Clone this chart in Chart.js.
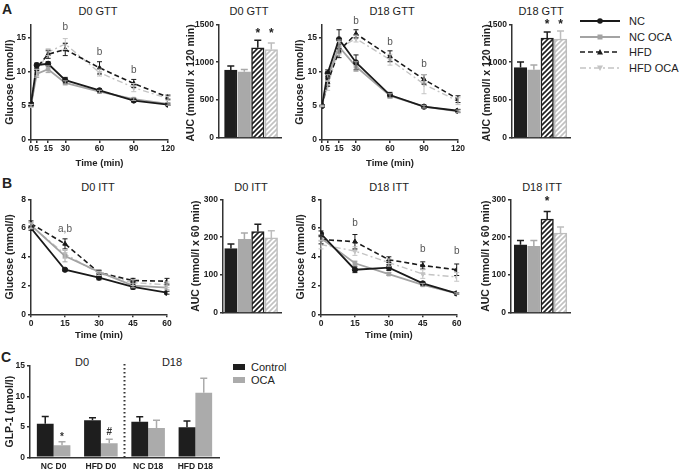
<!DOCTYPE html>
<html lang="en">
<head>
<meta charset="UTF-8">
<title>GTT, ITT and GLP-1</title>
<script src="https://cdn.jsdelivr.net/npm/chart.js"></script>
<style>
    body { margin: 0; width: 679px; height: 473px; position: relative; overflow: hidden; background: #fff;
           font-family: "Liberation Sans", Arial, sans-serif; color: #222; }
    canvas { position: absolute; }
    .ttl { position: absolute; font-size: 11px; transform: translate(-50%, -50%); white-space: nowrap; }
    .letter { position: absolute; font-size: 14px; line-height: 14px; font-weight: bold; }
    .lg { position: absolute; font-size: 11px; transform: translateY(-50%); white-space: nowrap; }
    .box { position: absolute; width: 12px; height: 6px; }
</style>
</head>
<body>

<!-- panel A -->
<div class="letter" style="left:2px;top:2px">A</div>
<div class="ttl" style="left:98px;top:11px">D0 GTT</div>
<div class="ttl" style="left:249px;top:11px">D0 GTT</div>
<div class="ttl" style="left:392px;top:11px">D18 GTT</div>
<div class="ttl" style="left:541px;top:11px">D18 GTT</div>
<canvas id="gttD0" width="180" height="160" style="left:0;top:15px"></canvas>
<canvas id="aucGttD0" width="106" height="130" style="left:181px;top:15px"></canvas>
<canvas id="gttD18" width="180" height="160" style="left:290px;top:15px"></canvas>
<canvas id="aucGttD18" width="98" height="130" style="left:477px;top:15px"></canvas>
<canvas id="legendA" width="50" height="70" style="left:575px;top:10px"></canvas>
<div class="lg" style="left:629px;top:21px">NC</div>
<div class="lg" style="left:629px;top:37px">NC OCA</div>
<div class="lg" style="left:629px;top:52px">HFD</div>
<div class="lg" style="left:629px;top:68px">HFD OCA</div>

<!-- panel B -->
<div class="letter" style="left:2px;top:176px">B</div>
<div class="ttl" style="left:98px;top:187px">D0 ITT</div>
<div class="ttl" style="left:251px;top:187px">D0 ITT</div>
<div class="ttl" style="left:389px;top:187px">D18 ITT</div>
<div class="ttl" style="left:542px;top:187px">D18 ITT</div>
<canvas id="ittD0" width="180" height="157" style="left:0;top:190px"></canvas>
<canvas id="aucIttD0" width="100" height="130" style="left:186px;top:190px"></canvas>
<canvas id="ittD18" width="180" height="157" style="left:291px;top:190px"></canvas>
<canvas id="aucIttD18" width="100" height="130" style="left:476px;top:190px"></canvas>

<!-- panel C -->
<div class="letter" style="left:1px;top:350px">C</div>
<div class="ttl" style="left:82px;top:362px">D0</div>
<div class="ttl" style="left:172px;top:362px">D18</div>
<canvas id="glp" width="225" height="123" style="left:0;top:350px"></canvas>
<div class="box" style="left:233px;top:364px;background:#1e1e1e"></div>
<div class="lg" style="left:251px;top:367px">Control</div>
<div class="box" style="left:233px;top:377px;background:#ababab"></div>
<div class="lg" style="left:251px;top:380px">OCA</div>

<script>
    // ---------- data ----------
    const groups = ['NC', 'NC OCA', 'HFD', 'HFD OCA'];
    const gttTimes = [0, 5, 15, 30, 60, 90, 120];
    const ittTimes = [0, 15, 30, 45, 60];

    // D0 GTT, glucose (mmol/l) and SEM
    const gttD0NC     = [5.3, 11.0, 11.2, 8.8, 7.3, 5.8, 5.2];
    const gttD0NCOCA  = [5.1, 9.7, 10.4, 8.4, 7.1, 6.0, 5.3];
    const gttD0HFD    = [5.2, 10.6, 12.6, 13.3, 10.6, 8.3, 6.3];
    const gttD0HFDOCA = [5.0, 9.9, 12.9, 14.1, 9.9, 7.7, 6.1];
    const gttD0NCErr     = [0.2, 0.3, 0.3, 0.4, 0.2, 0.2, 0.1];
    const gttD0NCOCAErr  = [0.2, 0.5, 0.5, 0.3, 0.2, 0.2, 0.2];
    const gttD0HFDErr    = [0.2, 0.4, 0.6, 0.9, 0.9, 0.6, 0.3];
    const gttD0HFDOCAErr = [0.2, 0.5, 0.5, 0.8, 0.5, 0.6, 0.3];

    // D18 GTT
    const gttD18NC     = [5.0, 9.8, 14.8, 11.4, 6.6, 4.9, 4.3];
    const gttD18NCOCA  = [5.0, 9.1, 13.7, 10.8, 6.5, 4.9, 4.2];
    const gttD18HFD    = [5.0, 8.5, 13.1, 15.6, 12.3, 8.9, 6.0];
    const gttD18HFDOCA = [5.0, 8.0, 13.5, 14.9, 11.8, 8.2, 5.7];
    const gttD18NCErr     = [0.1, 0.5, 1.4, 1.1, 0.4, 0.2, 0.2];
    const gttD18NCOCAErr  = [0.1, 0.5, 1.0, 0.7, 0.3, 0.2, 0.2];
    const gttD18HFDErr    = [0.1, 0.6, 1.0, 0.6, 0.8, 0.7, 0.5];
    const gttD18HFDOCAErr = [0.1, 0.7, 1.0, 0.5, 0.8, 1.4, 0.5];

    // D0 ITT
    const ittD0NC     = [6.0, 3.1, 2.55, 1.9, 1.5];
    const ittD0NCOCA  = [6.2, 4.05, 2.95, 2.0, 1.85];
    const ittD0HFD    = [6.3, 4.9, 2.9, 2.35, 2.3];
    const ittD0HFDOCA = [6.15, 4.2, 2.85, 2.2, 2.05];
    const ittD0NCErr     = [0.15, 0.1, 0.15, 0.15, 0.1];
    const ittD0NCOCAErr  = [0.2, 0.4, 0.15, 0.15, 0.15];
    const ittD0HFDErr    = [0.2, 0.35, 0.15, 0.15, 0.2];
    const ittD0HFDOCAErr = [0.2, 0.3, 0.15, 0.2, 0.2];

    // D18 ITT
    const ittD18NC     = [5.6, 3.1, 3.25, 2.15, 1.45];
    const ittD18NCOCA  = [5.3, 3.55, 2.8, 2.05, 1.45];
    const ittD18HFD    = [5.2, 5.05, 3.8, 3.4, 3.1];
    const ittD18HFDOCA = [4.85, 4.4, 3.6, 2.8, 2.6];
    const ittD18NCErr     = [0.2, 0.2, 0.2, 0.1, 0.05];
    const ittD18NCOCAErr  = [0.2, 0.15, 0.1, 0.1, 0.05];
    const ittD18HFDErr    = [0.3, 0.5, 0.2, 0.25, 0.4];
    const ittD18HFDOCAErr = [0.3, 0.3, 0.25, 0.3, 0.3];

    // AUC bars (NC, NC OCA, HFD, HFD OCA) and SEM
    const aucGttD0  = [895, 873, 1190, 1167];
    const aucGttD0Err  = [55, 30, 100, 85];
    const aucGttD18 = [930, 900, 1318, 1305];
    const aucGttD18Err = [73, 63, 80, 108];
    const aucIttD0  = [170, 194, 215, 198];
    const aucIttD0Err  = [12, 17, 19, 19];
    const aucIttD18 = [180, 176, 248, 211];
    const aucIttD18Err = [11, 15, 20, 16];

    // GLP-1 (pmol/l)
    const glpLabels = ['NC D0', 'HFD D0', 'NC D18', 'HFD D18'];
    const glpControl = [5.5, 6.1, 5.85, 4.95];
    const glpControlErr = [1.2, 0.4, 0.8, 1.0];
    const glpOCA = [2.0, 2.3, 4.8, 10.6];
    const glpOCAErr = [0.55, 0.65, 1.3, 2.4];

    // significance marks, in data units
    const gttD0Marks  = [{ x: 30, y: 16.5, text: 'b' }, { x: 60, y: 12.9, text: 'b' }, { x: 90, y: 10.2, text: 'b' }];
    const gttD18Marks = [{ x: 30, y: 17.4, text: 'b' }, { x: 60, y: 14.4, text: 'b' }, { x: 90, y: 11.2, text: 'b' }];
    const ittD0Marks  = [{ x: 15, y: 5.9, text: 'a,b' }];
    const ittD18Marks = [{ x: 15, y: 6.3, text: 'b' }, { x: 45, y: 4.5, text: 'b' }, { x: 60, y: 4.4, text: 'b' }];
    const aucGttD0Marks  = [{ x: 2, y: 1380, text: '*' }, { x: 3, y: 1380, text: '*' }];
    const aucGttD18Marks = [{ x: 2, y: 1490, text: '*' }, { x: 3, y: 1490, text: '*' }];
    const aucIttD18Marks = [{ x: 2, y: 293, text: '*' }];
    const glpMarks = [{ ds: 1, i: 0, y: 3.3, text: '*' }, { ds: 1, i: 1, y: 4.1, text: '#' }];

    // ---------- style ----------
    Chart.defaults.font.family = '"Liberation Sans", Arial, sans-serif';
    Chart.defaults.color = '#222';
    const AX = '#333';
    const FONT = '"Liberation Sans", Arial, sans-serif';

    const lineStyles = [
        { color: '#1a1a1a', dash: [], width: 1.8, point: 'circle', rot: 0 },
        { color: '#a3a3a3', dash: [], width: 1.8, point: 'rect', rot: 0 },
        { color: '#1a1a1a', dash: [5, 3], width: 1.6, point: 'triangle', rot: 0 },
        { color: '#c4c4c4', dash: [6, 3, 2, 3], width: 1.4, point: 'triangle', rot: 180 }
    ];

    function hatch(color) {
        const c = document.createElement('canvas');
        c.width = 5; c.height = 5;
        const g = c.getContext('2d');
        g.fillStyle = '#fff';
        g.fillRect(0, 0, 5, 5);
        g.strokeStyle = color;
        g.lineWidth = 1.6;
        g.beginPath();
        g.moveTo(-1, 6); g.lineTo(6, -1);
        g.moveTo(-1, 1); g.lineTo(1, -1);
        g.moveTo(4, 6); g.lineTo(6, 4);
        g.stroke();
        return g.createPattern(c, 'repeat');
    }
    const aucBorders = ['#1e1e1e', '#a9a9a9', '#1e1e1e', '#bdbdbd'];
    const aucFills = ['#1e1e1e', '#a9a9a9', hatch('#1e1e1e'), hatch('#c2c2c2')];

    // ---------- plugins ----------
    const errorBars = {
        id: 'errorBars',
        afterDatasetsDraw(chart) {
            const ctx = chart.ctx, ys = chart.scales.y;
            const isBar = chart.config.type === 'bar';
            chart.data.datasets.forEach((ds, di) => {
                if (!ds.err) return;
                chart.getDatasetMeta(di).data.forEach((el, i) => {
                    const raw = ds.data[i];
                    const v = typeof raw === 'object' ? raw.y : raw;
                    const e = ds.err[i];
                    const top = ys.getPixelForValue(v + e);
                    const bot = isBar ? el.y : ys.getPixelForValue(v - e);
                    const col = Array.isArray(ds.errColor) ? ds.errColor[i] : (ds.errColor || ds.borderColor);
                    const cap = isBar ? 3.5 : 2.5;
                    ctx.save();
                    ctx.strokeStyle = col;
                    ctx.lineWidth = isBar ? 1.5 : 1;
                    ctx.beginPath();
                    ctx.moveTo(el.x, bot); ctx.lineTo(el.x, top);
                    ctx.moveTo(el.x - cap, top); ctx.lineTo(el.x + cap, top);
                    if (!isBar) { ctx.moveTo(el.x - cap, bot); ctx.lineTo(el.x + cap, bot); }
                    ctx.stroke();
                    ctx.restore();
                });
            });
        }
    };

    function marks(items, font, color) {
        return {
            id: 'marks',
            afterDraw(chart) {
                const ctx = chart.ctx;
                items.forEach(n => {
                    const x = n.ds !== undefined ? chart.getDatasetMeta(n.ds).data[n.i].x
                                                 : chart.scales.x.getPixelForValue(n.x);
                    const y = chart.scales.y.getPixelForValue(n.y);
                    ctx.save();
                    ctx.font = font;
                    ctx.fillStyle = color;
                    ctx.textAlign = 'center';
                    ctx.textBaseline = 'middle';
                    ctx.fillText(n.text, x, y);
                    ctx.restore();
                });
            }
        };
    }

    const divider = {
        id: 'divider',
        afterDraw(chart) {
            const xs = chart.scales.x, ctx = chart.ctx;
            const x = (xs.getPixelForValue(1) + xs.getPixelForValue(2)) / 2;
            ctx.save();
            ctx.strokeStyle = AX;
            ctx.lineWidth = 2;
            ctx.setLineDash([1.5, 2.5]);
            ctx.beginPath();
            ctx.moveTo(x, chart.chartArea.top - 2);
            ctx.lineTo(x, chart.chartArea.bottom);
            ctx.stroke();
            ctx.restore();
        }
    };

    // ---------- scales ----------
    function yScale(o) {
        return {
            min: 0, max: o.max,
            ticks: { stepSize: o.step, includeBounds: false, color: '#222', font: { size: 8.5, weight: 'bold' }, padding: 2,
                     callback: v => String(v) },
            grid: { drawOnChartArea: false, tickLength: 3, color: AX, lineWidth: 1.5 },
            border: { color: AX, width: 1.5 },
            title: { display: true, text: o.title, color: '#222', font: { size: 10.5, weight: 'bold' },
                     padding: { top: 4, bottom: 0 }, align: o.align || 'center' },
            afterFit: s => { s.width = o.fit; }
        };
    }

    function xTime(ticks, fit) {
        return {
            type: 'linear', min: 0, max: ticks[ticks.length - 1],
            afterBuildTicks: s => { s.ticks = ticks.map(v => ({ value: v })); },
            ticks: { autoSkip: false, maxRotation: 0, color: '#222', font: { size: 8.5, weight: 'bold' }, padding: 1,
                     callback: v => String(v) },
            grid: { drawOnChartArea: false, tickLength: 3, color: AX, lineWidth: 1.5 },
            border: { color: AX, width: 1.5 },
            title: { display: true, text: 'Time (min)', color: '#222', font: { size: 9.5, weight: 'bold' }, padding: { top: 0, bottom: 6 } },
            afterFit: s => { s.height = fit; }
        };
    }

    const base = {
        responsive: false, devicePixelRatio: 1, animation: false,
        plugins: { legend: { display: false }, tooltip: { enabled: false } }
    };

    // ---------- charts ----------
    function lineChart(id, times, series, errs, yo, xfit, pad, notes) {
        return new Chart(document.getElementById(id), {
            type: 'line',
            data: {
                datasets: series.map((vals, k) => ({
                    label: groups[k],
                    data: times.map((t, i) => ({ x: t, y: vals[i] })),
                    err: errs[k],
                    borderColor: lineStyles[k].color,
                    backgroundColor: lineStyles[k].color,
                    borderDash: lineStyles[k].dash,
                    borderWidth: lineStyles[k].width,
                    pointStyle: lineStyles[k].point,
                    pointRotation: lineStyles[k].rot,
                    pointRadius: 2.6,
                    pointBorderWidth: 1,
                    tension: 0
                }))
            },
            options: Object.assign({}, base, {
                layout: { padding: pad },
                scales: { x: xTime(times, xfit), y: yScale(yo) }
            }),
            plugins: [errorBars, marks(notes, '10px ' + FONT, '#555')]
        });
    }

    function aucChart(id, vals, errs, yo, xr, xfit, pad, notes) {
        return new Chart(document.getElementById(id), {
            type: 'bar',
            data: {
                datasets: [{
                    label: 'AUC',
                    data: vals.map((v, i) => ({ x: i, y: v })),
                    err: errs,
                    errColor: aucBorders,
                    backgroundColor: aucFills,
                    borderColor: aucBorders,
                    borderWidth: 1.5,
                    barThickness: 12.5
                }]
            },
            options: Object.assign({}, base, {
                layout: { padding: pad },
                scales: {
                    x: { type: 'linear', offset: false, min: xr[0], max: xr[1],
                         ticks: { display: false }, grid: { display: false },
                         border: { color: AX, width: 1.5 },
                         afterFit: s => { s.height = xfit; } },
                    y: yScale(yo)
                }
            }),
            plugins: [errorBars, marks(notes, 'bold 12px ' + FONT, '#222')]
        });
    }

    lineChart('gttD0', gttTimes,
        [gttD0NC, gttD0NCOCA, gttD0HFD, gttD0HFDOCA],
        [gttD0NCErr, gttD0NCOCAErr, gttD0HFDErr, gttD0HFDOCAErr],
        { max: 17, step: 5, title: 'Glucose (mmol/l)', fit: 31 }, 35, { top: 9.3, right: 12 }, gttD0Marks);

    aucChart('aucGttD0', aucGttD0, aucGttD0Err,
        { max: 1500, step: 500, title: 'AUC (mmol/l x 120 min)', fit: 38, align: 'end' },
        [-0.874, 3.77], 5, { top: 9.3, right: 5.3 }, aucGttD0Marks);

    lineChart('gttD18', gttTimes,
        [gttD18NC, gttD18NCOCA, gttD18HFD, gttD18HFDOCA],
        [gttD18NCErr, gttD18NCOCAErr, gttD18HFDErr, gttD18HFDOCAErr],
        { max: 17, step: 5, title: 'Glucose (mmol/l)', fit: 32 }, 35, { top: 9.3, right: 12 }, gttD18Marks);

    aucChart('aucGttD18', aucGttD18, aucGttD18Err,
        { max: 1500, step: 500, title: 'AUC (mmol/l x 120 min)', fit: 35, align: 'end' },
        [-0.64, 3.71], 5, { top: 9.3, right: 5 }, aucGttD18Marks);

    lineChart('ittD0', ittTimes,
        [ittD0NC, ittD0NCOCA, ittD0HFD, ittD0HFDOCA],
        [ittD0NCErr, ittD0NCOCAErr, ittD0HFDErr, ittD0HFDOCAErr],
        { max: 8, step: 2, title: 'Glucose (mmol/l)', fit: 31 }, 32.7, { top: 9.3, right: 13 }, ittD0Marks);

    aucChart('aucIttD0', aucIttD0, aucIttD0Err,
        { max: 300, step: 100, title: 'AUC (mmol/l x 60 min)', fit: 37 },
        [-0.59, 3.77], 5.7, { top: 9.3, right: 4.3 }, []);

    lineChart('ittD18', ittTimes,
        [ittD18NC, ittD18NCOCA, ittD18HFD, ittD18HFDOCA],
        [ittD18NCErr, ittD18NCOCAErr, ittD18HFDErr, ittD18HFDOCAErr],
        { max: 8, step: 2, title: 'Glucose (mmol/l)', fit: 30 }, 32.7, { top: 9.3, right: 14.3 }, ittD18Marks);

    aucChart('aucIttD18', aucIttD18, aucIttD18Err,
        { max: 300, step: 100, title: 'AUC (mmol/l x 60 min)', fit: 35 },
        [-0.71, 3.71], 5.7, { top: 9.3, right: 6 }, aucIttD18Marks);

    new Chart(document.getElementById('glp'), {
        type: 'bar',
        data: {
            labels: glpLabels,
            datasets: [
                { label: 'Control', data: glpControl, err: glpControlErr, errColor: '#1e1e1e',
                  backgroundColor: '#1e1e1e', borderColor: '#1e1e1e', borderWidth: 0 },
                { label: 'OCA', data: glpOCA, err: glpOCAErr, errColor: '#ababab',
                  backgroundColor: '#ababab', borderColor: '#ababab', borderWidth: 0 }
            ]
        },
        options: Object.assign({}, base, {
            layout: { padding: { top: 16, right: 6 } },
            datasets: { bar: { categoryPercentage: 0.71, barPercentage: 1 } },
            scales: {
                x: { offset: true, grid: { display: false, drawTicks: false }, border: { color: AX, width: 1.5 },
                     ticks: { color: '#222', font: { size: 8.5, weight: 'bold' }, padding: 4 },
                     afterFit: s => { s.height = 15.7; } },
                y: yScale({ max: 15, step: 5, title: 'GLP-1 (pmol/l)', fit: 30 })
            }
        }),
        plugins: [errorBars, marks(glpMarks, 'bold 10px ' + FONT, '#333'), divider]
    });

    // ---------- legend of panel A ----------
    const lg = document.getElementById('legendA').getContext('2d');
    const rowY = [11, 27, 42, 58];
    lineStyles.forEach((st, k) => {
        const y = rowY[k];
        lg.strokeStyle = st.color;
        lg.fillStyle = st.color;
        lg.lineWidth = st.width;
        lg.setLineDash(st.dash);
        lg.beginPath();
        lg.moveTo(5, y);
        lg.lineTo(45, y);
        lg.stroke();
        lg.setLineDash([]);
        lg.beginPath();
        if (st.point === 'circle') {
            lg.arc(25, y, 2.8, 0, Math.PI * 2);
        } else if (st.point === 'rect') {
            lg.rect(22.5, y - 2.5, 5, 5);
        } else if (st.rot === 0) {
            lg.moveTo(25, y - 3); lg.lineTo(28, y + 2.5); lg.lineTo(22, y + 2.5);
        } else {
            lg.moveTo(25, y + 3); lg.lineTo(28, y - 2.5); lg.lineTo(22, y - 2.5);
        }
        lg.closePath();
        lg.fill();
    });
</script>
</body>
</html>
